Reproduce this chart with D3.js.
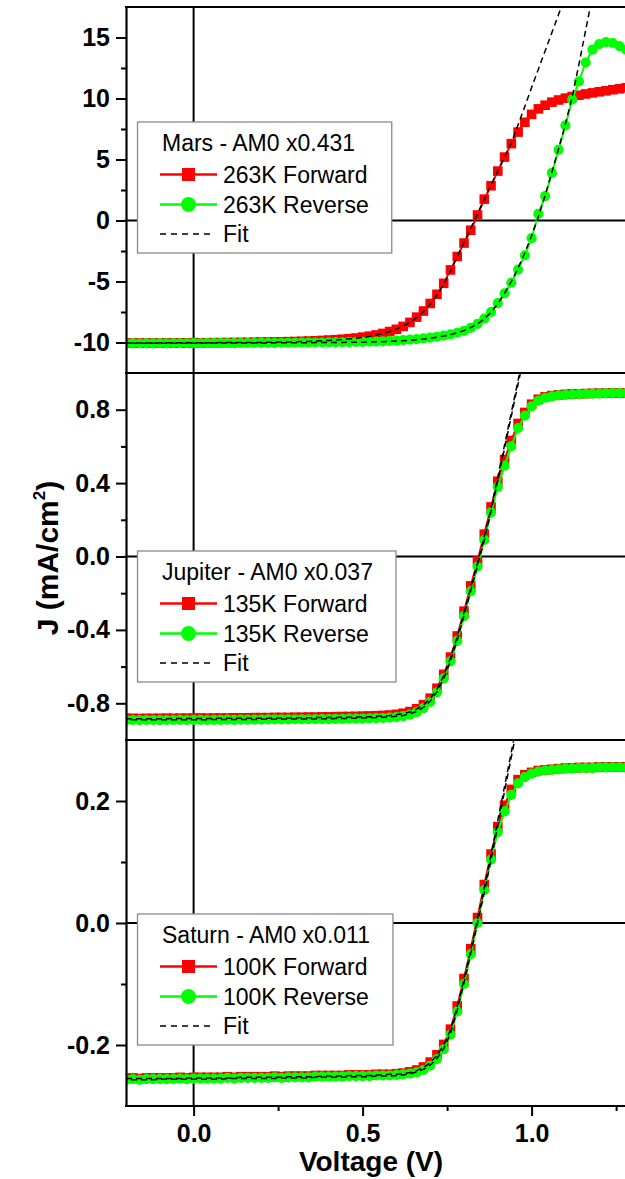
<!DOCTYPE html>
<html>
<head>
<meta charset="utf-8">
<script src="https://cdn.jsdelivr.net/npm/d3@7"></script>
<style>
  body { margin: 0; background: #fff; }
  svg { display: block; font-family: "Liberation Sans", Arial, sans-serif; }
</style>
</head>
<body>
<div id="chart"></div>
<script>
// voltage grid shared by every series (V)
const voltage = [-0.2, -0.18, -0.16, -0.14, -0.12, -0.1, -0.08, -0.06, -0.04, -0.02,
  0.0, 0.02, 0.04, 0.06, 0.08, 0.1, 0.12, 0.14, 0.16, 0.18,
  0.2, 0.22, 0.24, 0.26, 0.28, 0.3, 0.32, 0.34, 0.36, 0.38,
  0.4, 0.42, 0.44, 0.46, 0.48, 0.5, 0.52, 0.54, 0.56, 0.58,
  0.6, 0.62, 0.64, 0.66, 0.68, 0.7, 0.72, 0.74, 0.76, 0.78,
  0.8, 0.82, 0.84, 0.86, 0.88, 0.9, 0.92, 0.94, 0.96, 0.98,
  1.0, 1.02, 1.04, 1.06, 1.08, 1.1, 1.12, 1.14, 1.16, 1.18,
  1.2, 1.22, 1.24, 1.26, 1.28, 1.3];

// Mars panel (mA/cm2)
const marsForward = [-10.05, -10.05, -10.04, -10.05, -10.04, -10.04, -10.03, -10.04, -10.03, -10.03,
  -10.02, -10.02, -10.02, -10.01, -10.01, -10.0, -10.0, -9.99, -9.99, -9.98,
  -9.97, -9.96, -9.95, -9.94, -9.93, -9.92, -9.9, -9.88, -9.86, -9.83,
  -9.8, -9.77, -9.73, -9.69, -9.63, -9.56, -9.48, -9.38, -9.26, -9.1,
  -8.92, -8.68, -8.35, -7.92, -7.42, -6.8, -6.05, -5.15, -4.05, -2.95,
  -1.85, -0.8, 0.45, 1.75, 2.85, 4.05, 5.2, 6.3, 7.25, 8.05,
  8.7, 9.15, 9.45, 9.7, 9.88, 10.03, 10.16, 10.27, 10.37, 10.46,
  10.55, 10.63, 10.72, 10.8, 10.88, 10.95];
const marsReverse = [-10.08, -10.07, -10.08, -10.07, -10.07, -10.06, -10.07, -10.06, -10.06, -10.06,
  -10.05, -10.06, -10.05, -10.05, -10.05, -10.04, -10.05, -10.04, -10.04, -10.04,
  -10.03, -10.03, -10.03, -10.02, -10.02, -10.02, -10.01, -10.01, -10.0, -10.0,
  -9.99, -9.99, -9.98, -9.97, -9.96, -9.95, -9.94, -9.92, -9.9, -9.87,
  -9.84, -9.8, -9.76, -9.72, -9.66, -9.6, -9.53, -9.44, -9.33, -9.2,
  -9.04, -8.8, -8.47, -8.04, -7.5, -6.78, -5.97, -5.1, -4.02, -2.85,
  -1.45, 0.55, 2.0, 3.9, 5.8, 7.8, 9.9, 11.4, 12.95, 14.0,
  14.45, 14.62, 14.55, 14.3, 14.0, 13.7];
const marsFitForward = [-10.04, -10.04, -10.04, -10.04, -10.04, -10.03, -10.03, -10.03, -10.03, -10.03,
  -10.03, -10.02, -10.02, -10.02, -10.01, -10.01, -10.01, -10.0, -10.0, -9.99,
  -9.99, -9.98, -9.97, -9.96, -9.95, -9.94, -9.92, -9.91, -9.89, -9.86,
  -9.83, -9.8, -9.76, -9.71, -9.65, -9.58, -9.5, -9.39, -9.26, -9.1,
  -8.9, -8.66, -8.35, -7.96, -7.47, -6.87, -6.13, -5.23, -4.15, -2.97,
  -1.8, -0.62, 0.55, 1.73, 2.9, 4.05, 5.2, 6.35, 7.85, 9.35,
  10.9, 12.4, 13.9, 15.4, 16.9, 18.4];
const marsFitReverse = [-10.06, -10.06, -10.06, -10.06, -10.06, -10.06, -10.06, -10.06, -10.06, -10.06,
  -10.06, -10.06, -10.05, -10.05, -10.05, -10.05, -10.05, -10.04, -10.04, -10.04,
  -10.04, -10.04, -10.03, -10.03, -10.03, -10.02, -10.02, -10.02, -10.01, -10.01,
  -10.0, -10.0, -9.99, -9.98, -9.98, -9.97, -9.96, -9.94, -9.93, -9.91,
  -9.88, -9.85, -9.82, -9.77, -9.72, -9.65, -9.57, -9.47, -9.35, -9.2,
  -9.02, -8.78, -8.47, -8.06, -7.52, -6.82, -5.98, -5.0, -3.9, -2.65,
  -1.25, 0.3, 2.05, 3.95, 5.9, 7.9, 10.1, 12.8, 15.6, 18.4];

// Jupiter panel
const jupiterForward = [-0.883, -0.882, -0.883, -0.882, -0.882, -0.882, -0.881, -0.882, -0.881, -0.881,
  -0.881, -0.88, -0.881, -0.88, -0.88, -0.88, -0.879, -0.879, -0.879, -0.878,
  -0.878, -0.878, -0.877, -0.877, -0.877, -0.876, -0.876, -0.875, -0.875, -0.874,
  -0.874, -0.873, -0.872, -0.872, -0.871, -0.87, -0.869, -0.868, -0.866, -0.864,
  -0.86, -0.854, -0.845, -0.83, -0.807, -0.772, -0.718, -0.642, -0.548, -0.433,
  -0.298, -0.16, -0.025, 0.122, 0.27, 0.41, 0.528, 0.632, 0.725, 0.785,
  0.83, 0.857, 0.87, 0.877, 0.881, 0.884, 0.886, 0.887, 0.888, 0.889,
  0.89, 0.89, 0.891, 0.891, 0.892, 0.892];
const jupiterReverse = [-0.892, -0.891, -0.892, -0.891, -0.891, -0.892, -0.891, -0.891, -0.89, -0.891,
  -0.89, -0.89, -0.891, -0.89, -0.89, -0.889, -0.89, -0.889, -0.889, -0.889,
  -0.889, -0.888, -0.888, -0.888, -0.888, -0.887, -0.887, -0.887, -0.886, -0.886,
  -0.886, -0.885, -0.885, -0.884, -0.884, -0.883, -0.882, -0.881, -0.88, -0.878,
  -0.875, -0.87, -0.862, -0.848, -0.826, -0.792, -0.74, -0.664, -0.572, -0.46,
  -0.325, -0.19, -0.055, 0.09, 0.24, 0.379, 0.495, 0.6, 0.7, 0.768,
  0.818, 0.85, 0.865, 0.873, 0.878, 0.881, 0.883, 0.885, 0.886, 0.887,
  0.888, 0.889, 0.89, 0.89, 0.891, 0.891];
const jupiterFitForward = [-0.884, -0.884, -0.884, -0.884, -0.884, -0.884, -0.884, -0.883, -0.883, -0.883,
  -0.883, -0.883, -0.883, -0.882, -0.882, -0.882, -0.882, -0.882, -0.881, -0.881,
  -0.881, -0.881, -0.88, -0.88, -0.88, -0.879, -0.879, -0.879, -0.878, -0.878,
  -0.877, -0.877, -0.876, -0.876, -0.875, -0.874, -0.873, -0.871, -0.869, -0.866,
  -0.862, -0.856, -0.847, -0.832, -0.809, -0.775, -0.724, -0.65, -0.553, -0.438,
  -0.305, -0.17, -0.035, 0.108, 0.262, 0.432, 0.608, 0.784, 0.96, 1.136];
const jupiterFitReverse = [-0.889, -0.889, -0.889, -0.889, -0.889, -0.889, -0.889, -0.889, -0.889, -0.889,
  -0.889, -0.889, -0.889, -0.888, -0.888, -0.888, -0.888, -0.888, -0.888, -0.888,
  -0.887, -0.887, -0.887, -0.887, -0.886, -0.886, -0.886, -0.885, -0.885, -0.884,
  -0.884, -0.883, -0.883, -0.882, -0.881, -0.88, -0.879, -0.878, -0.876, -0.874,
  -0.871, -0.866, -0.858, -0.844, -0.822, -0.789, -0.738, -0.665, -0.57, -0.455,
  -0.322, -0.186, -0.05, 0.09, 0.245, 0.415, 0.59, 0.765, 0.94, 1.115];

// Saturn panel
const saturnForward = [-0.255, -0.254, -0.255, -0.254, -0.254, -0.254, -0.254, -0.254, -0.253, -0.254,
  -0.253, -0.253, -0.253, -0.253, -0.253, -0.252, -0.253, -0.252, -0.252, -0.252,
  -0.252, -0.252, -0.251, -0.252, -0.251, -0.251, -0.251, -0.251, -0.25, -0.25,
  -0.25, -0.25, -0.25, -0.249, -0.249, -0.249, -0.249, -0.248, -0.248, -0.248,
  -0.247, -0.246, -0.244, -0.241, -0.236, -0.228, -0.216, -0.199, -0.174, -0.136,
  -0.091, -0.042, 0.009, 0.063, 0.113, 0.158, 0.193, 0.219, 0.235, 0.243,
  0.247, 0.25, 0.251, 0.252, 0.253, 0.254, 0.254, 0.255, 0.255, 0.255,
  0.256, 0.256, 0.256, 0.256, 0.256, 0.256];
const saturnReverse = [-0.257, -0.256, -0.257, -0.256, -0.256, -0.256, -0.256, -0.256, -0.255, -0.256,
  -0.255, -0.255, -0.255, -0.255, -0.255, -0.254, -0.255, -0.254, -0.254, -0.254,
  -0.254, -0.254, -0.253, -0.254, -0.253, -0.253, -0.253, -0.253, -0.252, -0.252,
  -0.252, -0.252, -0.252, -0.251, -0.251, -0.251, -0.251, -0.25, -0.25, -0.25,
  -0.249, -0.248, -0.247, -0.245, -0.241, -0.234, -0.223, -0.207, -0.183, -0.145,
  -0.1, -0.051, 0.0, 0.054, 0.104, 0.149, 0.183, 0.21, 0.229, 0.239,
  0.245, 0.248, 0.25, 0.251, 0.252, 0.253, 0.253, 0.254, 0.254, 0.254,
  0.255, 0.255, 0.255, 0.255, 0.255, 0.255];
const saturnFitForward = [-0.255, -0.255, -0.255, -0.255, -0.255, -0.255, -0.255, -0.255, -0.255, -0.254,
  -0.254, -0.254, -0.254, -0.254, -0.254, -0.254, -0.254, -0.253, -0.253, -0.253,
  -0.253, -0.253, -0.253, -0.253, -0.252, -0.252, -0.252, -0.252, -0.252, -0.251,
  -0.251, -0.251, -0.251, -0.25, -0.25, -0.25, -0.25, -0.249, -0.249, -0.248,
  -0.248, -0.247, -0.245, -0.242, -0.237, -0.229, -0.217, -0.2, -0.175, -0.137,
  -0.092, -0.044, 0.006, 0.058, 0.112, 0.168, 0.224, 0.28, 0.336];
const saturnFitReverse = [-0.257, -0.257, -0.257, -0.257, -0.257, -0.256, -0.256, -0.256, -0.256, -0.256,
  -0.256, -0.256, -0.256, -0.256, -0.256, -0.255, -0.255, -0.255, -0.255, -0.255,
  -0.255, -0.255, -0.255, -0.254, -0.254, -0.254, -0.254, -0.254, -0.253, -0.253,
  -0.253, -0.253, -0.253, -0.252, -0.252, -0.252, -0.252, -0.251, -0.251, -0.251,
  -0.25, -0.249, -0.247, -0.244, -0.24, -0.233, -0.222, -0.206, -0.181, -0.143,
  -0.098, -0.05, 0.0, 0.05, 0.104, 0.16, 0.216, 0.272, 0.328];

// axis ticks and labels
const marsTicks = [-10, -5, 0, 5, 10, 15];
const marsTickLabels = ["-10", "-5", "0", "5", "10", "15"];
const marsMinor = [-7.5, -2.5, 2.5, 7.5, 12.5];
const jupiterTicks = [-0.8, -0.4, 0, 0.4, 0.8];
const jupiterTickLabels = ["-0.8", "-0.4", "0.0", "0.4", "0.8"];
const jupiterMinor = [-0.6, -0.2, 0.2, 0.6];
const saturnTicks = [-0.2, 0, 0.2];
const saturnTickLabels = ["-0.2", "0.0", "0.2"];
const saturnMinor = [-0.1, 0.1];
const voltageTicks = [0, 0.5, 1.0];
const voltageTickLabels = ["0.0", "0.5", "1.0"];
const voltageMinor = [0.25, 0.75, 1.25];

const legendTitles = ["Mars - AM0 x0.431", "Jupiter - AM0 x0.037", "Saturn - AM0 x0.011"];
const legendForward = ["263K Forward", "135K Forward", "100K Forward"];
const legendReverse = ["263K Reverse", "135K Reverse", "100K Reverse"];

const svgWidth = 625, svgHeight = 1179;
const plotLeft = 126, plotRight = 633;

const svg = d3.select("#chart").append("svg")
    .attr("width", svgWidth)
    .attr("height", svgHeight);

const xScale = d3.scaleLinear().domain([-0.2, 1.3]).range([plotLeft, plotRight]);

const panels = [
  { top: 7, bottom: 373, domain: [-12.5, 17.5], ticks: marsTicks, labels: marsTickLabels, minor: marsMinor,
    fwd: marsForward, rev: marsReverse, fitF: marsFitForward, fitR: marsFitReverse, legendTop: 122 },
  { top: 373, bottom: 740, domain: [-1, 1], ticks: jupiterTicks, labels: jupiterTickLabels, minor: jupiterMinor,
    fwd: jupiterForward, rev: jupiterReverse, fitF: jupiterFitForward, fitR: jupiterFitReverse, legendTop: 551 },
  { top: 740, bottom: 1106, domain: [-0.3, 0.3], ticks: saturnTicks, labels: saturnTickLabels, minor: saturnMinor,
    fwd: saturnForward, rev: saturnReverse, fitF: saturnFitForward, fitR: saturnFitReverse, legendTop: 914 }
];

panels.forEach(function (p, k) {
  const yScale = d3.scaleLinear().domain(p.domain).range([p.bottom, p.top]);
  const g = svg.append("g");

  g.append("clipPath").attr("id", "clip" + k)
    .append("rect")
    .attr("x", plotLeft).attr("y", p.top)
    .attr("width", plotRight - plotLeft).attr("height", p.bottom - p.top);

  // zero lines
  g.append("line")
    .attr("x1", plotLeft).attr("x2", svgWidth)
    .attr("y1", yScale(0)).attr("y2", yScale(0))
    .attr("stroke", "#000").attr("stroke-width", 2);
  g.append("line")
    .attr("x1", xScale(0)).attr("x2", xScale(0))
    .attr("y1", p.top).attr("y2", p.bottom)
    .attr("stroke", "#000").attr("stroke-width", 2);

  const plot = g.append("g").attr("clip-path", "url(#clip" + k + ")");

  const line = d3.line()
    .x(function (d, i) { return xScale(voltage[i]); })
    .y(function (d) { return yScale(d); });

  // forward: red squares
  plot.append("path").datum(p.fwd)
    .attr("d", line).attr("fill", "none")
    .attr("stroke", "#ff0000").attr("stroke-width", 2);
  plot.selectAll(".sq").data(p.fwd).enter().append("rect")
    .attr("class", "sq")
    .attr("x", function (d, i) { return xScale(voltage[i]) - 4.8; })
    .attr("y", function (d) { return yScale(d) - 4.8; })
    .attr("width", 9.6).attr("height", 9.6)
    .attr("fill", "#ff0000");

  // reverse: green circles
  plot.append("path").datum(p.rev)
    .attr("d", line).attr("fill", "none")
    .attr("stroke", "#00ff00").attr("stroke-width", 2);
  plot.selectAll(".ci").data(p.rev).enter().append("circle")
    .attr("class", "ci")
    .attr("cx", function (d, i) { return xScale(voltage[i]); })
    .attr("cy", function (d) { return yScale(d); })
    .attr("r", 5.1)
    .attr("fill", "#00ff00");

  // fits
  plot.append("path").datum(p.fitF)
    .attr("d", line).attr("fill", "none")
    .attr("stroke", "#000").attr("stroke-width", 1.5)
    .attr("stroke-dasharray", "6,4");
  plot.append("path").datum(p.fitR)
    .attr("d", line).attr("fill", "none")
    .attr("stroke", "#000").attr("stroke-width", 1.5)
    .attr("stroke-dasharray", "6,4").attr("stroke-dashoffset", 5);

  // legend
  const lg = g.append("g");
  const box = lg.append("rect")
    .attr("x", 137.5).attr("y", p.legendTop)
    .attr("height", 131)
    .attr("fill", "#fff").attr("stroke", "#8a8a8a").attr("stroke-width", 1.3);
  const tFont = 23;
  const title = lg.append("text").attr("x", 162).attr("y", p.legendTop + 29)
    .style("font-size", tFont + "px").text(legendTitles[k]);
  const rows = [p.legendTop + 52.5, p.legendTop + 82.5, p.legendTop + 112];
  lg.append("line").attr("x1", 160).attr("x2", 217).attr("y1", rows[0]).attr("y2", rows[0])
    .attr("stroke", "#ff0000").attr("stroke-width", 2.6);
  lg.append("rect").attr("x", 182).attr("y", rows[0] - 6.5).attr("width", 13).attr("height", 13)
    .attr("fill", "#ff0000");
  lg.append("line").attr("x1", 160).attr("x2", 217).attr("y1", rows[1]).attr("y2", rows[1])
    .attr("stroke", "#00ff00").attr("stroke-width", 2.6);
  lg.append("circle").attr("cx", 188.5).attr("cy", rows[1]).attr("r", 7.5)
    .attr("fill", "#00ff00");
  lg.append("line").attr("x1", 160).attr("x2", 212).attr("y1", rows[2]).attr("y2", rows[2])
    .attr("stroke", "#000").attr("stroke-width", 1.3).attr("stroke-dasharray", "6,5");
  const t1 = lg.append("text").attr("x", 223).attr("y", rows[0] + 8)
    .style("font-size", tFont + "px").text(legendForward[k]);
  const t2 = lg.append("text").attr("x", 223).attr("y", rows[1] + 8)
    .style("font-size", tFont + "px").text(legendReverse[k]);
  lg.append("text").attr("x", 223).attr("y", rows[2] + 8)
    .style("font-size", tFont + "px").text("Fit");
  const maxRight = Math.max(
    162 + title.node().getComputedTextLength(),
    223 + t1.node().getComputedTextLength(),
    223 + t2.node().getComputedTextLength());
  box.attr("width", maxRight + 23 - 137.5);

  // y axis, major and minor ticks
  const yAxis = d3.axisLeft(yScale)
    .tickValues(p.ticks)
    .tickFormat(function (d, i) { return p.labels[i]; })
    .tickSize(10).tickSizeOuter(0).tickPadding(6);
  const ya = g.append("g").attr("transform", "translate(" + plotLeft + ",0)").call(yAxis);
  ya.select(".domain").attr("stroke-width", 2.2);
  ya.selectAll(".tick line").attr("stroke-width", 2);
  ya.selectAll("text").style("font-size", "25px").style("font-weight", "bold")
    .attr("fill", "#000").attr("font-family", null);

  const yMinor = d3.axisLeft(yScale).tickValues(p.minor).tickFormat("").tickSize(5).tickSizeOuter(0);
  const ym = g.append("g").attr("transform", "translate(" + plotLeft + ",0)").call(yMinor);
  ym.select(".domain").remove();
  ym.selectAll(".tick line").attr("stroke-width", 2);

  // frame line under each panel (and above the first)
  g.append("line")
    .attr("x1", plotLeft - 1).attr("x2", svgWidth)
    .attr("y1", p.bottom).attr("y2", p.bottom)
    .attr("stroke", "#000").attr("stroke-width", 2.2);
  if (k === 0) {
    g.append("line")
      .attr("x1", plotLeft - 1).attr("x2", svgWidth)
      .attr("y1", p.top).attr("y2", p.top)
      .attr("stroke", "#000").attr("stroke-width", 2.2);
  }
});

// bottom voltage axis
const xAxis = d3.axisBottom(xScale)
  .tickValues(voltageTicks)
  .tickFormat(function (d, i) { return voltageTickLabels[i]; })
  .tickSize(10).tickSizeOuter(0).tickPadding(8);
const xa = svg.append("g").attr("transform", "translate(0,1106)").call(xAxis);
xa.select(".domain").remove();
xa.selectAll(".tick line").attr("stroke-width", 2);
xa.selectAll("text").style("font-size", "25px").style("font-weight", "bold")
  .attr("fill", "#000").attr("font-family", null);

const xMinor = d3.axisBottom(xScale).tickValues(voltageMinor).tickFormat("").tickSize(5).tickSizeOuter(0);
const xm = svg.append("g").attr("transform", "translate(0,1106)").call(xMinor);
xm.select(".domain").remove();
xm.selectAll(".tick line").attr("stroke-width", 2);

// axis titles
svg.append("text")
  .attr("x", 371).attr("y", 1171)
  .attr("text-anchor", "middle")
  .style("font-size", "28px").style("font-weight", "bold")
  .text("Voltage (V)");

const yTitle = svg.append("text")
  .attr("transform", "translate(58,558) rotate(-90)")
  .attr("text-anchor", "middle")
  .style("font-size", "30px").style("font-weight", "bold");
yTitle.append("tspan").text("J (mA/cm");
yTitle.append("tspan").attr("dy", -13).style("font-size", "17px").text("2");
yTitle.append("tspan").attr("dy", 13).text(")");
</script>
</body>
</html>
